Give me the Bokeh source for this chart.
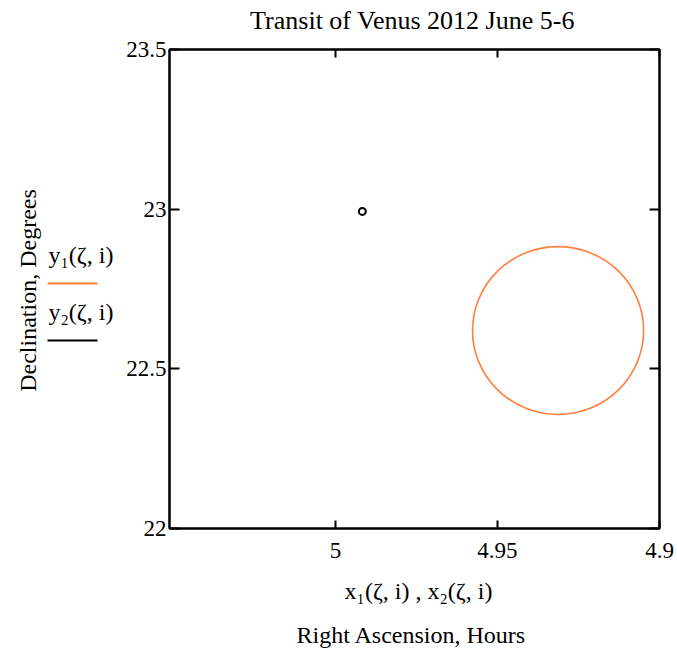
from bokeh.plotting import figure
from bokeh.models import Range1d, LinearAxis, FixedTicker, CustomJSTickFormatter
from bokeh.layouts import row, column
from bokeh.embed import file_html
from bokeh.resources import INLINE
import math

# ---- data ----
title_text = "Transit of Venus 2012 June 5-6"
x_label_1 = "x\u2081(\u03b6, i) , x\u2082(\u03b6, i)"
x_label_2 = "Right Ascension, Hours"
y_label = "Declination, Degrees"
legend_labels = ["y\u2081(\u03b6, i)", "y\u2082(\u03b6, i)"]
x_ticks = [5.0, 4.95, 4.9]
y_ticks = [22.0, 22.5, 23.0, 23.5]
x_range_vals = [5.0512, 4.9]     # reversed RA axis (hours)
y_range_vals = [22.0, 23.5]      # declination (degrees)
# y1: the Sun's disc (centre and diameters)
sun_x = [4.9313]
sun_y = [22.620]
sun_w = [0.0528]
sun_h = [0.526]
# y2: Venus
venus_x = [4.9917]
venus_y = [22.993]

FONT = "Liberation Serif"
ORANGE = "#ff8040"
LEGEND_COLORS = [ORANGE, "black"]

W, H = 677, 648
LW = 120                       # width of the left strip (axis title + legend)
TH = 36                        # height of the title strip
BH = 80                        # height of the bottom strip
MH = H - TH - BH               # height of the middle row
FL, FR, FT, FB = 169, 659, 49, 528   # frame box in page pixels

def blank(fig):
    fig.grid.visible = False
    fig.background_fill_color = "white"
    fig.border_fill_color = "white"

def strip(width, height):
    f = figure(width=width, height=height, output_backend="svg",
               toolbar_location=None, x_range=Range1d(0, width),
               y_range=Range1d(0, height), x_axis_location=None,
               y_axis_location=None, min_border=0, outline_line_color=None)
    blank(f)
    return f

# ---------- title strip ----------
top = strip(W, TH)
top.text(x=[412], y=[TH - 20], text=[title_text], text_font=FONT,
         text_font_size="26px", text_align="center", text_baseline="middle",
         text_color="black")

# ---------- left strip: y-axis title and legend ----------
side = figure(width=LW, height=MH, output_backend="svg", toolbar_location=None,
              x_range=Range1d(0, LW), y_range=Range1d(H - FB, H - FT),
              x_axis_location=None, y_axis_location=None,
              min_border=0, min_border_top=FT - TH,
              min_border_bottom=TH + MH - FB, outline_line_color=None)
blank(side)
side.text(x=[27], y=[H - 290], text=[y_label], angle=math.pi / 2,
          text_font=FONT, text_font_size="24px",
          text_align="center", text_baseline="middle", text_color="black")
leg_text_y = [254, 311]
leg_line_y = [283, 340]
for lbl, col, ty, ly in zip(legend_labels, LEGEND_COLORS, leg_text_y, leg_line_y):
    side.text(x=[48], y=[H - ty], text=[lbl], text_font=FONT,
              text_font_size="24px", text_align="left",
              text_baseline="alphabetic", text_color="black")
    side.line(x=[47, 97], y=[H - ly, H - ly], line_color=col, line_width=2)

# ---------- main plot ----------
p = figure(width=W - LW, height=MH, output_backend="svg", toolbar_location=None,
           x_range=Range1d(*x_range_vals), y_range=Range1d(*y_range_vals),
           x_axis_location=None, y_axis_location=None,
           min_border_left=FL - LW, min_border_right=W - FR,
           min_border_top=FT - TH, min_border_bottom=TH + MH - FB)
blank(p)
p.outline_line_color = "black"
p.outline_line_width = 2

def make_axis(ticks, labels, tick_len):
    ax = LinearAxis(ticker=FixedTicker(ticks=ticks))
    ax.axis_line_color = "black"
    ax.axis_line_width = 2
    ax.major_tick_in = tick_len
    ax.major_tick_out = 0
    ax.major_tick_line_width = 2
    ax.minor_tick_line_color = None
    ax.major_label_text_font = FONT
    ax.major_label_text_font_size = "23px"
    ax.major_label_text_color = "black"
    if labels:
        ax.major_label_standoff = 3
        ax.formatter = CustomJSTickFormatter(code="return String(tick)")
    else:
        ax.major_label_text_font_size = "0px"
        ax.major_label_standoff = 0
    return ax

p.add_layout(make_axis(y_ticks, True, 10), "left")
p.add_layout(make_axis(y_ticks, False, 10), "right")
xb = make_axis(x_ticks, True, 8)
xb.major_label_standoff = 14
p.add_layout(xb, "below")
p.add_layout(make_axis(x_ticks, False, 8), "above")

p.ellipse(x=sun_x, y=sun_y, width=sun_w, height=sun_h, fill_color=None,
          line_color=ORANGE, line_width=1.6)
p.scatter(x=venus_x, y=venus_y, size=7, marker="circle", fill_color="white",
          line_color="black", line_width=2)

# ---------- bottom strip: x-axis titles ----------
bottom = strip(W, BH)
bottom.text(x=[418], y=[H - 590], text=[x_label_1], text_font=FONT,
            text_font_size="24px", text_align="center",
            text_baseline="alphabetic", text_color="black")
bottom.text(x=[411], y=[H - 634], text=[x_label_2], text_font=FONT,
            text_font_size="24px", text_align="center",
            text_baseline="alphabetic", text_color="black")

layout = column(top, row(side, p, spacing=0), bottom, spacing=0)
open("out.html", "w").write(file_html(layout, INLINE))
